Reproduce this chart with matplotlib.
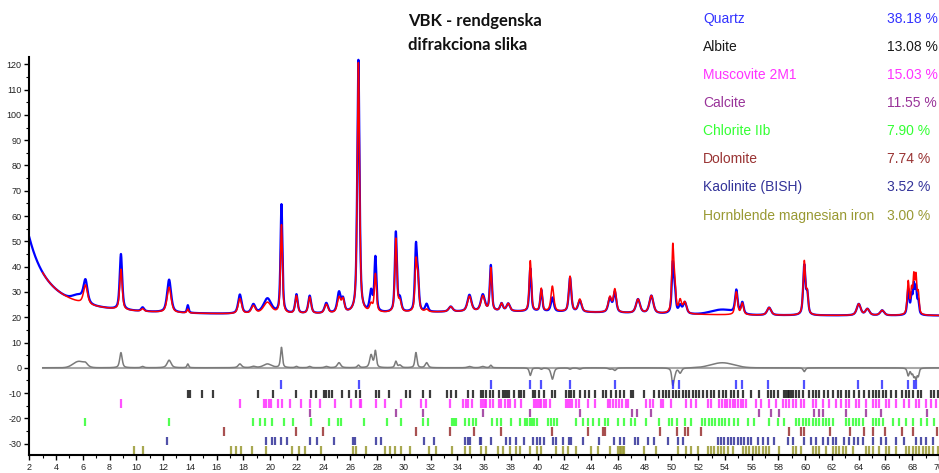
"""
XRD pattern of sample VBK with Rietveld fit, difference curve and phase reflection markers.
"""

import numpy as np
import matplotlib
matplotlib.use('Agg')
import matplotlib.pyplot as plt
from matplotlib.ticker import MultipleLocator

plt.rcParams['axes.unicode_minus'] = False

# Phases and refined weight fractions (%)
phase_names = ['Quartz', 'Albite', 'Muscovite 2M1', 'Calcite', 'Chlorite IIb',
               'Dolomite', 'Kaolinite (BISH)', 'Hornblende magnesian iron']
phase_wt = [38.18, 13.08, 15.03, 11.55, 7.90, 7.74, 3.52, 3.00]
phase_colors = ['#3333ff', '#1a1a1a', '#ff33ff', '#993399', '#33ff33',
                '#993333', '#333399', '#999933']

# Fitted reflections: 2theta, observed / calculated height above background, FWHM
peak_pos = [6.2, 8.85, 10.47, 12.45, 13.85, 17.74, 18.75, 19.8, 20.85, 21.97,
            22.96, 24.2, 25.15, 25.45, 26.6, 27.55, 27.87, 29.4, 29.7, 30.9,
            31.05, 31.7, 33.5, 34.9, 35.9, 36.5, 37.3, 37.8, 39.45, 40.27,
            41.1, 42.42, 43.15, 45.4, 45.77, 47.5, 48.5, 50.1, 50.25, 50.65,
            51.0, 54.85, 55.3, 57.3, 59.93, 60.15, 64.0, 64.65, 65.75, 67.7,
            67.95, 68.12, 68.28, 68.45]
peak_obs = [8.5, 22.0, 1.5, 13.0, 3.0, 7.5, 3.5, 6.0, 43.0, 7.5,
            7.0, 4.0, 8.0, 5.0, 100.0, 8.0, 21.5, 31.5, 5.0, 25.0,
            12.0, 3.0, 2.0, 6.5, 6.5, 18.0, 3.0, 3.0, 17.0, 8.5,
            5.5, 13.5, 4.5, 5.5, 8.0, 5.5, 7.0, 19.0, 8.0, 3.0,
            4.5, 9.0, 4.5, 3.0, 19.5, 8.0, 4.5, 2.5, 2.0, 10.0,
            7.0, 11.0, 10.0, 5.0]
peak_calc = [7.5, 16.0, 1.0, 10.0, 1.5, 6.0, 3.0, 4.5, 35.0, 7.0,
             6.5, 3.5, 6.0, 5.0, 99.0, 3.0, 15.0, 29.0, 4.0, 19.0,
             12.0, 1.0, 2.0, 6.0, 6.0, 17.0, 3.0, 3.0, 20.0, 9.0,
             10.0, 14.0, 5.0, 6.0, 9.0, 5.5, 7.0, 25.5, 10.0, 5.0,
             4.5, 9.0, 4.5, 3.0, 21.0, 8.0, 4.5, 2.5, 2.0, 13.0,
             9.0, 14.0, 14.0, 8.0]
peak_fwhm = [0.35, 0.22, 0.25, 0.35, 0.15, 0.3, 0.35, 0.7, 0.17, 0.22,
             0.25, 0.3, 0.3, 0.25, 0.2, 0.25, 0.18, 0.18, 0.25, 0.18,
             0.18, 0.25, 0.35, 0.35, 0.35, 0.18, 0.25, 0.3, 0.18, 0.18,
             0.25, 0.22, 0.3, 0.3, 0.25, 0.35, 0.35, 0.18, 0.18, 0.25,
             0.3, 0.22, 0.22, 0.35, 0.2, 0.18, 0.35, 0.35, 0.35, 0.18,
             0.15, 0.15, 0.15, 0.15]

# Unfitted intensity in the measurement (obs only)
hump_pos = [5.7, 53.8]
hump_height = [2.5, 2.0]
hump_fwhm = [1.0, 2.0]

# Background: flat level, low-angle air scatter, broad amorphous band
bg_level = 20.6
scatter_amp = 90.0
scatter_fwhm = 2.9
band_pos = 38.0
band_height = 1.5
band_fwhm = 20.0

# Reflection positions (2theta) for each phase
quartz_ticks = [20.85, 26.62, 36.52, 39.45, 40.28, 42.43, 45.77, 50.12, 50.6, 54.85,
                55.3, 57.2, 59.93, 63.98, 65.75, 67.7, 68.1, 68.3]
albite_ticks = [13.83, 14.0, 14.92, 15.74, 19.06, 20.22, 21.92, 23.09, 23.41, 24.01,
                24.21, 24.41, 24.61, 25.40, 25.90, 26.45, 26.70, 27.89, 28.14, 28.89,
                30.18, 30.48, 31.43, 31.93, 33.25, 33.54, 33.92, 34.79, 35.16, 35.73,
                35.91, 36.16, 36.46, 36.66, 37.10, 37.40, 37.58, 37.70, 37.85, 38.20,
                38.60, 38.75, 38.95, 39.64, 39.82, 40.09, 40.46, 41.09, 41.26, 42.13,
                42.33, 42.51, 42.68, 43.13, 43.55, 43.87, 44.25, 44.92, 45.12, 45.49,
                45.87, 46.17, 46.49, 46.99, 47.16, 47.98, 48.73, 49.10, 49.35, 49.60,
                49.85, 50.10, 50.35, 50.60, 50.84, 51.09, 51.34, 51.59, 51.84, 52.09,
                52.34, 52.64, 52.96, 53.21, 53.58, 53.83, 54.08, 54.45, 54.70, 54.95,
                55.33, 55.95, 56.57, 57.19, 57.44, 57.69, 57.94, 58.44, 58.56, 58.69,
                58.81, 58.94, 59.06, 59.31, 59.56, 59.81, 60.30, 60.55, 60.80, 61.05,
                61.43, 61.67, 62.05, 62.42, 62.67, 63.04, 63.29, 63.67, 64.04, 64.41,
                64.79, 65.03, 65.28, 65.53, 65.78, 66.03, 66.40, 66.78, 67.27, 67.52,
                67.77, 68.02, 68.40, 68.64, 69.39, 69.64, 69.89]
muscovite_ticks = [8.85, 17.74, 19.55, 19.73, 19.93, 20.05, 20.60, 20.92, 21.52, 22.34,
                   22.96, 23.71, 24.83, 26.08, 26.70, 26.82, 27.94, 28.56, 29.81, 31.25,
                   31.68, 33.42, 34.41, 34.66, 34.79, 35.11, 35.78, 35.91, 36.06, 36.16,
                   36.41, 36.66, 37.10, 37.28, 37.53, 37.78, 37.95, 38.27, 38.77, 39.69,
                   39.84, 40.02, 40.14, 40.27, 40.44, 40.64, 40.89, 42.13, 42.26, 42.43,
                   42.58, 42.83, 43.08, 43.77, 44.25, 45.24, 45.42, 45.62, 45.87, 46.07,
                   46.31, 46.61, 46.74, 48.11, 48.36, 48.60, 49.23, 49.35, 49.97, 51.09,
                   51.47, 51.84, 52.71, 52.96, 53.58, 53.78, 53.98, 54.18, 54.38, 54.58,
                   54.78, 54.98, 55.18, 55.38, 55.58, 56.32, 56.70, 57.32, 57.82, 58.31,
                   58.56, 58.81, 59.06, 59.31, 59.68, 59.93, 60.55, 60.80, 61.30, 61.80,
                   62.30, 62.67, 63.04, 63.29, 63.79, 64.04, 64.54, 65.03, 65.28, 65.53,
                   66.03, 66.28, 66.78, 67.40, 67.77, 68.27, 68.52, 69.02, 69.39, 69.76]
calcite_ticks = [23.01, 29.39, 31.43, 35.90, 39.39, 43.18, 47.07, 47.45, 48.48, 56.57,
                 57.44, 58.06, 60.68, 61.05, 61.30, 63.04, 64.53, 65.66, 69.14]
chlorite_ticks = [6.16, 12.43, 18.73, 19.28, 19.60, 20.17, 21.05, 21.72, 23.09, 24.41,
                  25.08, 25.28, 27.02, 28.74, 29.81, 31.43, 31.80, 33.62, 33.77, 33.92,
                  34.54, 34.86, 35.16, 35.41, 36.61, 36.95, 37.28, 38.02, 38.65, 39.02,
                  39.20, 39.39, 39.57, 39.74, 39.92, 40.76, 41.01, 41.23, 41.48, 42.88,
                  43.38, 43.75, 44.17, 44.62, 45.07, 45.24, 45.99, 46.49, 46.99, 47.24,
                  48.11, 49.10, 49.85, 50.05, 50.40, 51.04, 51.47, 52.29, 52.54, 52.79,
                  53.04, 53.28, 53.53, 53.78, 54.03, 54.33, 54.70, 54.95, 55.70, 56.20,
                  57.32, 57.94, 58.44, 59.31, 59.56, 59.81, 60.05, 60.30, 60.55, 60.80,
                  61.05, 61.30, 61.55, 61.80, 62.05, 63.04, 63.29, 63.54, 63.79, 64.04,
                  64.29, 65.03, 65.28, 65.53, 65.78, 66.53, 67.03, 67.52, 68.02, 68.64,
                  69.14, 69.64]
dolomite_ticks = [16.54, 21.92, 23.96, 30.88, 33.42, 35.24, 37.28, 41.06, 43.75, 44.87,
                  45.07, 49.15, 50.40, 51.02, 51.22, 52.21, 58.76, 59.68, 59.88, 61.87,
                  63.35, 64.36, 65.03, 65.96, 67.27, 68.07, 69.84]
kaolinite_ticks = [12.26, 19.68, 20.17, 20.35, 20.85, 21.27, 23.01, 23.51, 24.78, 26.20,
                   26.32, 27.94, 28.32, 31.50, 32.25, 34.54, 34.79, 34.96, 35.66, 35.78,
                   36.53, 37.60, 37.95, 38.40, 38.95, 39.64, 39.94, 40.19, 40.51, 41.14,
                   41.39, 41.88, 42.33, 42.51, 43.38, 44.62, 45.74, 46.12, 46.49, 47.24,
                   47.48, 48.23, 48.73, 49.72, 50.47, 50.84, 53.46, 53.71, 53.96, 54.21,
                   54.45, 54.70, 54.95, 55.20, 55.45, 55.70, 55.96, 56.45, 56.82, 57.19,
                   57.69, 58.69, 59.06, 59.93, 60.43, 60.80, 61.30, 61.67, 62.05, 62.30,
                   62.92, 63.29, 63.67, 63.92, 64.29, 65.03, 65.66, 66.03, 66.78, 67.40,
                   68.27, 68.64, 69.02, 69.52]
hornblende_ticks = [9.82, 10.47, 17.04, 17.44, 17.79, 18.68, 19.73, 21.67, 22.17, 22.59,
                    23.83, 26.20, 26.45, 27.19, 28.56, 28.94, 29.31, 29.76, 30.43, 31.85,
                    32.42, 33.62, 34.59, 34.91, 35.78, 36.16, 37.03, 37.40, 37.90, 38.40,
                    38.65, 39.39, 39.94, 40.27, 41.39, 41.88, 42.26, 42.88, 44.00, 44.50,
                    45.37, 45.99, 46.12, 46.24, 46.37, 46.49, 47.98, 48.85, 50.47, 51.09,
                    51.47, 51.97, 52.71, 52.96, 53.21, 53.46, 53.71, 53.96, 54.21, 54.58,
                    55.33, 55.58, 55.83, 56.07, 56.32, 56.57, 56.82, 57.07, 57.32, 58.06,
                    59.06, 59.31, 59.68, 60.55, 60.80, 61.05, 61.55, 62.05, 62.30, 62.55,
                    62.79, 63.04, 63.54, 64.54, 64.79, 65.03, 65.53, 66.03, 66.28, 66.78,
                    67.52, 67.77, 68.02, 68.27, 68.52, 68.77, 69.02, 69.27, 69.52, 69.89]

phase_ticks = [quartz_ticks, albite_ticks, muscovite_ticks, calcite_ticks,
               chlorite_ticks, dolomite_ticks, kaolinite_ticks, hornblende_ticks]


def pvoigt(x, x0, h, w, eta=0.6):
    d = (x - x0) / w
    lor = 1.0 / (1.0 + 4.0 * d**2)
    gau = np.exp(-4.0 * np.log(2) * d**2)
    return h * (eta * lor + (1 - eta) * gau)


tt = np.arange(2.0, 70.0001, 0.01)
bg = (bg_level
      + scatter_amp / (1.0 + 4.0 * (tt / scatter_fwhm)**2)
      + pvoigt(tt, band_pos, band_height, band_fwhm, eta=0.0))

obs = bg.copy()
calc = bg.copy()
for p, ho, hc, w in zip(peak_pos, peak_obs, peak_calc, peak_fwhm):
    obs += pvoigt(tt, p, ho, w)
    calc += pvoigt(tt, p, hc, w)
for p, h, w in zip(hump_pos, hump_height, hump_fwhm):
    obs += pvoigt(tt, p, h, w, eta=0.0)

fit = tt >= 3.0
diff = obs - calc

W, H = 939, 473
fig = plt.figure(figsize=(W / 100, H / 100), dpi=100)
ax = fig.add_axes([29.3 / W, 1 - 455.3 / H, 1 - 29.3 / W, (455.3 - 57) / H])

ax.plot(tt, obs, color='#0000ff', lw=1.6)
ax.plot(tt[fit], calc[fit], color='#ff0000', lw=1.1)
ax.plot([3.0, 70.0], [0, 0], color='#a8a8a8', lw=1.5)
ax.plot(tt[fit], diff[fit], color='#7a7a7a', lw=1.1)

# reflection markers, one row per phase
row_top = -5.0
row_step = 3.7
tick_len = 3.4
for i, (ticks, col) in enumerate(zip(phase_ticks, phase_colors)):
    top = row_top - i * row_step
    ax.vlines(ticks, top - tick_len, top, color=col, lw=1.6, alpha=0.85)

ax.set_xlim(2, 70)
ax.set_ylim(-34.6, 122.9)
ax.xaxis.set_major_locator(MultipleLocator(2))
ax.xaxis.set_minor_locator(MultipleLocator(1))
ax.yaxis.set_major_locator(MultipleLocator(10))
ax.yaxis.set_minor_locator(MultipleLocator(5))
for side in ['top', 'right']:
    ax.spines[side].set_visible(False)
for side in ['left', 'bottom']:
    ax.spines[side].set_linewidth(1.5)
ax.tick_params(which='major', direction='out', length=3.5, width=1.0,
               labelsize=6.5, pad=2, labelcolor='#222222')
ax.tick_params(which='minor', direction='out', length=2, width=0.8)
for lab in ax.get_xticklabels() + ax.get_yticklabels():
    lab.set_family('Liberation Sans')

# title
title_font = dict(family=['Lato', 'DejaVu Sans'], fontweight='bold', fontsize=12,
                  va='center', ha='left', color='#111111')
fig.text(408 / W, 1 - 21 / H, 'VBK - rendgenska', **title_font)
fig.text(408 / W, 1 - 45 / H, 'difrakciona slika', **title_font)

# phase table
legend_font = dict(family='Liberation Sans', fontsize=10, va='center', ha='left')
for i, (name, wt, col) in enumerate(zip(phase_names, phase_wt, phase_colors)):
    y = 1 - (18.8 + i * 28.1) / H
    fig.text(703 / W, y, name, color=col, **legend_font)
    fig.text(887 / W, y, f'{wt:.2f} %', color=col, **legend_font)

fig.savefig('out.png', dpi=100)
